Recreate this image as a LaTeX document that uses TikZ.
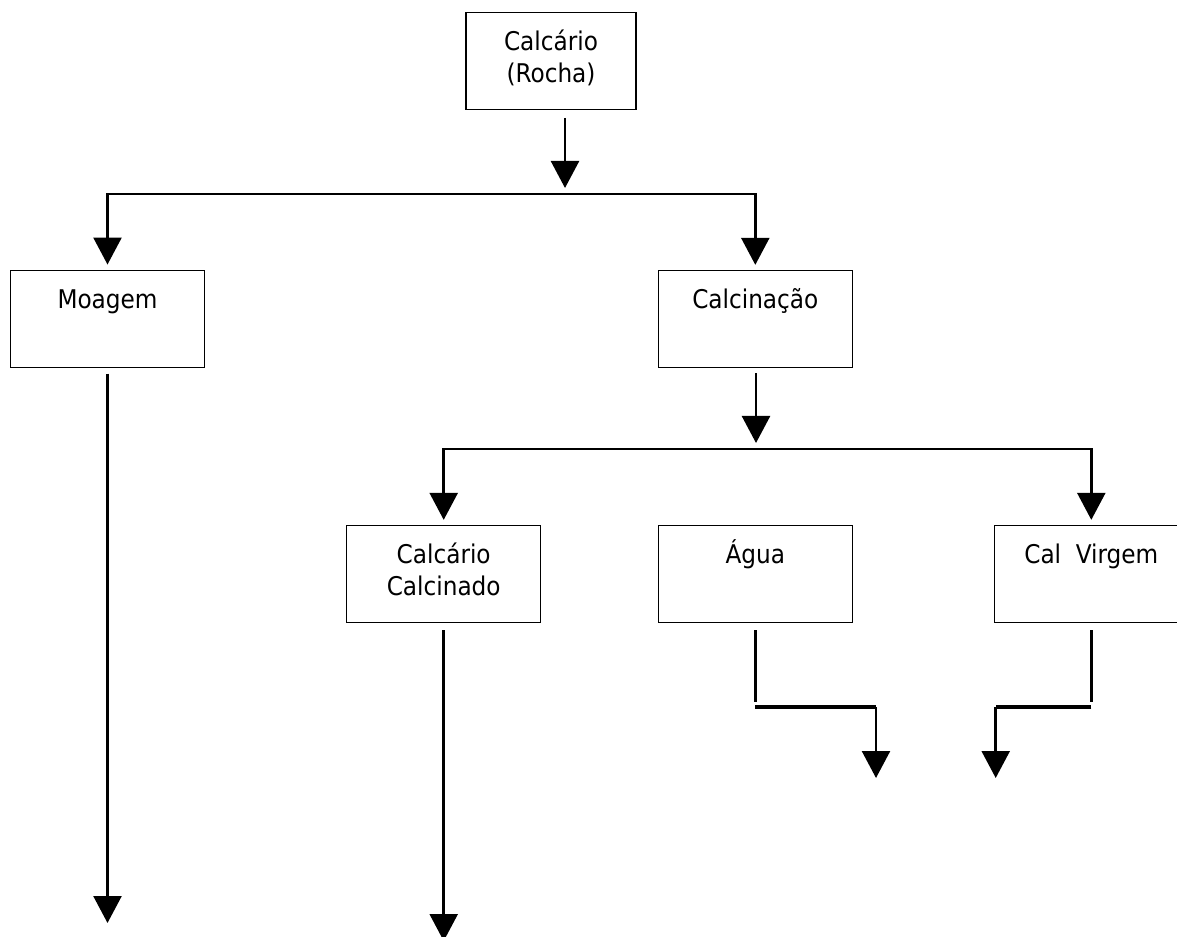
\documentclass[tikz,border=0pt]{standalone}
\usepackage{fontspec}
\setmainfont{DejaVu Sans Condensed}
\usetikzlibrary{arrows.meta}

\tikzset{
  bigtip/.tip={Triangle[width=0.84cm,length=0.81cm]},
  box/.style={draw,line width=1.1pt,minimum width=5.82cm,minimum height=2.91cm,inner sep=0pt,
    align=center,text height=1.14cm,text depth=1.77cm,font=\fontsize{22}{27.5}\selectfont},
  twoline/.style={box,text height=2.11cm,text depth=0.8cm},
  flow/.style={line width=2.1pt},
  bar/.style={line width=3pt},
  arr/.style={flow,-bigtip},
  twoarr/.style={flow,bigtip-bigtip}
}

\begin{document}
\begin{tikzpicture}[x=0.03cm,y=-0.03cm]
    \useasboundingbox (0,0) rectangle (1177,937);
    % boxes
    \node[twoline,minimum width=5.1cm] (rocha) at (551,61) {Calcário\\(Rocha)};
    \node[box] (moagem) at (107.5,318.7) {Moagem};
    \node[box] (calcinacao) at (755.3,319) {Calcinação};
    \node[twoline] (calcinado) at (443.7,574) {Calcário\\Calcinado};
    \node[box] (agua) at (755.3,574) {Água};
    \node[box] (virgem) at (1091.3,574) {Cal~~Virgem};
    % first split
    \coordinate (t) at (565,194);
    \draw[arr,shorten <=0.23cm,shorten >=0.18cm] (rocha.south -| t) -- (t);
    \draw[twoarr,shorten <=0.15cm,shorten >=0.15cm] (moagem.north) -- (moagem.north |- t) -- (calcinacao.north |- t) -- (calcinacao.north);
    % second split
    \coordinate (m) at (756,449);
    \draw[arr,shorten <=0.15cm,shorten >=0.18cm] (calcinacao.south -| m) -- (m);
    \draw[twoarr,shorten <=0.15cm,shorten >=0.15cm] (calcinado.north) -- (calcinado.north |- m) -- (virgem.north |- m) -- (virgem.north);
    % long outputs
    \coordinate (mend) at (107,923);
    \draw[arr,shorten <=0.17cm] (moagem.south) -- (moagem.south |- mend);
    \coordinate (cend) at (443,941);
    \draw[arr,shorten <=0.22cm] (calcinado.south) -- (calcinado.south |- cend);
    % agua
    \coordinate (ab) at (755.5,702);
    \coordinate (ac) at (876,707);
    \coordinate (ad) at (876,778);
    \draw[flow,shorten <=0.22cm] (agua.south) -- (agua.south |- ab);
    \draw[bar] (agua.south |- ac) -- (ac);
    \draw[arr] (ac) -- (ad);
    % cal virgem
    \coordinate (vb) at (1091.3,702);
    \coordinate (vc) at (995.7,707);
    \coordinate (vd) at (995.7,778);
    \draw[flow,shorten <=0.22cm] (virgem.south) -- (virgem.south |- vb);
    \draw[bar] (virgem.south |- vc) -- (vc);
    \draw[arr] (vc) -- (vd);
\end{tikzpicture}
\end{document}
